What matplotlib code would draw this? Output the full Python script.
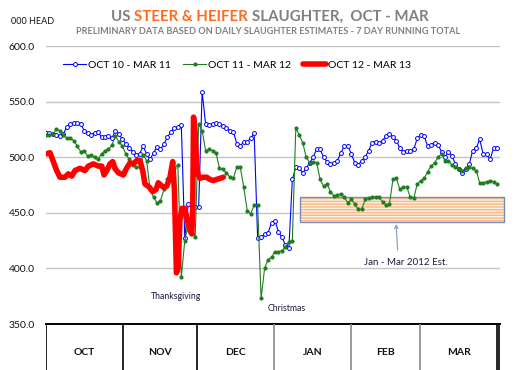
import numpy as np
import matplotlib
matplotlib.use("Agg")
import matplotlib.pyplot as plt
from matplotlib.patches import Rectangle

plt.rcParams['font.family'] = ['Lato', 'DejaVu Sans']

# 7 day running totals, 000 head; x in days from Oct 1
months = ['OCT', 'NOV', 'DEC', 'JAN', 'FEB', 'MAR']
month_days = [31, 30, 31, 31, 28, 31]
yticks = [350, 400, 450, 500, 550, 600]

blue_vals = [522, 522, 521, 520, 519, 521, 527, 530, 531, 531,
             530, 524, 522, 520, 522, 523, 518, 518, 519, 517,
             524, 521, 516, 512, 508, 505, 502, 503, 510, 503,
             498, 504, 509, 507, 512, 518, 523, 526, 527, 529,
             427, 458, 455, 455, 455, 559, 530, 529, 530, 531,
             530, 528, 526, 524, 523, 512, 510, 514, 514, 517,
             522, 427, 428, 431, 432, 441, 443, 433, 428, 421,
             418, 480, 491, 490, 486, 490, 495, 500, 507, 507,
             500, 496, 494, 495, 497, 504, 510, 510, 503, 495,
             493, 497, 500, 506, 513, 514, 513, 515, 519, 521,
             518, 515, 508, 505, 506, 506, 507, 517, 520, 519,
             510, 511, 513, 511, 505, 500, 505, 501, 494, 489,
             486, 489, 494, 506, 508, 516, 503, 503, 498, 508,
             508]

green_vals = [520, 520, 521, 525, 524, 520, 517, 517, 515, 510,
              505, 506, 501, 502, 500, 498, 503, 506, 507, 511,
              519, 514, 510, 503, 498, 493, 491, 491, 502, 497,
              471, 464, 459, 461, 471, 480, 486, 490, 493, 392,
              425, 440, 437, 428, 530, 524, 506, 507, 506, 504,
              490, 489, 486, 482, 481, 491, 491, 473, 452, 449,
              457, 457, 373, 400, 408, 410, 415, 415, 416, 419,
              424, 425, 526, 520, 513, 500, 495, 496, 495, 480,
              474, 476, 469, 465, 466, 467, 464, 459, 462, 458,
              453, 453, 462, 463, 464, 464, 464, 460, 457, 458,
              480, 481, 471, 473, 473, 464, 463, 476, 479, 481,
              487, 492, 495, 500, 503, 497, 497, 493, 491, 489,
              488, 490, 491, 490, 488, 477, 477, 478, 479, 478,
              476]

red_days = [0.0, 1.6, 2.8, 4.3, 5.6, 7.7, 9.0, 10.4, 11.7, 13.7,
            15.7, 17.1, 19.1, 21.1, 22.5, 23.4, 24.5, 25.8, 26.9, 27.8,
            29.2, 31.2, 32.5, 33.9, 35.2, 36.6, 37.9, 39.0, 39.9, 41.7,
            43.0, 44.4, 45.3, 47.3, 48.7, 50.0, 51.1, 51.8, 52.6, 53.3,
            54.0, 54.8, 56.0, 57.0, 58.1, 58.8, 59.2, 59.5, 60.1, 60.8,
            61.4, 62.1, 63.4, 64.8, 66.1, 67.5, 68.8, 70.2, 71.5]
red_vals = [503, 504, 497, 488, 482, 482, 485, 483, 488, 490,
            488, 492, 494, 492, 492, 484, 488, 494, 496, 490,
            486, 484, 490, 495, 494, 497, 497, 488, 476, 473,
            469, 471, 477, 473, 474, 482, 496, 470, 396, 401,
            443, 454, 454, 443, 434, 431, 455, 536, 524, 491,
            484, 481, 482, 482, 480, 479, 480, 481, 482]

est_box = (102.4, 184.7, 441.4, 464.4)  # Jan - Mar 2012 estimate range

fig = plt.figure(figsize=(5.22, 3.70), dpi=100)
ax = fig.add_axes([46 / 522, 1 - 324 / 370, 454 / 522, 278 / 370])
tab = fig.add_axes([46 / 522, 0, 454 / 522, 46 / 370])

xmax = 183.1
bdays = np.linspace(0, 181.9, len(blue_vals))
gdays = np.linspace(0, 181.9, len(green_vals))

# estimate box
x0, x1, y0, y1 = est_box
ax.add_patch(Rectangle((x0, y0), x1 - x0, y1 - y0, facecolor='#fdf1e6',
                       edgecolor='#f7b985', hatch='------', lw=0, clip_on=False, zorder=1))
ax.add_patch(Rectangle((x0, y0), x1 - x0, y1 - y0, facecolor='none',
                       edgecolor='#7b8cb4', lw=1, clip_on=False, zorder=1.5))

ax.plot(bdays, blue_vals, color='#0000ff', lw=0.8, marker='o', ms=2.8,
        mfc='white', mec='#0000ff', mew=0.7, label='OCT 10 - MAR 11', zorder=3)
ax.plot(gdays, green_vals, color='#1f7f1f', lw=0.8, marker='o', ms=3,
        mfc='#1f7f1f', mec='#1f7f1f', mew=0, label='OCT 11 - MAR 12', zorder=4)
ax.plot(red_days, red_vals, color='#ff0000', lw=4, solid_joinstyle='round',
        solid_capstyle='round', label='OCT 12 - MAR 13', zorder=5)

ax.set_xlim(0, xmax)
ax.set_ylim(350, 600)
ax.set_yticks(yticks)
ax.set_yticklabels([f'{v:.1f}' for v in yticks], fontsize=7.5)
ax.set_xticks([])
ax.tick_params(axis='y', length=0, pad=8, colors='#111111')
for v in yticks[1:]:
    ax.axhline(v, color='#c4c4c4', lw=1, zorder=0)
for s in ['left', 'right', 'top']:
    ax.spines[s].set_visible(False)
ax.spines['bottom'].set_color('black')
ax.spines['bottom'].set_linewidth(1.4)

# annotations
ax.text(52.5, 374.5, 'Thanksgiving', fontsize=6.3, ha='center', va='center', color='#1a1a3a')
ax.text(97.2, 363.5, 'Christmas', fontsize=6.3, ha='center', va='center', color='#1a1a3a')
ax.text(145.3, 405.6, 'Jan - Mar 2012 Est.', fontsize=7, ha='center', va='center', color='#1a1a3a')
ax.annotate('', xy=(141.1, 442.3), xytext=(141.9, 414.0),
            arrowprops=dict(arrowstyle='->', color='#7b9ac8', lw=0.8, mutation_scale=6))

# month table
tab.set_xlim(0, xmax)
tab.set_ylim(0, 1)
tab.axis('off')
edges = np.concatenate([[0], np.cumsum(month_days)])
for i, e in enumerate(edges):
    col = 'black' if i < 3 or i == len(edges) - 1 else '#8a8a8a'
    tab.axvline(e, color=col, lw=1.2)
tab.axvline(xmax - 0.3, color='black', lw=1.2)
for i, m in enumerate(months):
    tab.text((edges[i] + edges[i + 1]) / 2, 0.39, m, ha='center', va='center',
             fontsize=7.5, fontweight='bold', color='#111111')

# title, pieces laid out one after another
grey = '#808080'
r = fig.canvas.get_renderer()
xpos = 111 / 522
for piece, col in [('US ', grey), ('STEER & HEIFER ', '#ff6a1f'), ('SLAUGHTER,  OCT - MAR', grey)]:
    t = fig.text(xpos, 1 - 17 / 370, piece, fontsize=10.8, fontweight='bold', color=col, va='center')
    bb = t.get_window_extent(renderer=r)
    xpos += bb.width / fig.bbox.width
fig.text(268 / 522, 1 - 32 / 370,
         'PRELIMINARY DATA BASED ON DAILY SLAUGHTER ESTIMATES - 7 DAY RUNNING TOTAL',
         fontsize=6.6, fontweight='bold', color=grey, ha='center', va='center')
fig.text(11 / 522, 1 - 22 / 370, '000 HEAD', fontsize=6.5, color='#111111', va='center')

fig.legend(loc='center', bbox_to_anchor=(237 / 522, 1 - 65 / 370), ncol=3, frameon=False,
           fontsize=7.5, handlelength=2.2, handletextpad=0.15, columnspacing=1.2)

fig.savefig('out.png', dpi=100)
